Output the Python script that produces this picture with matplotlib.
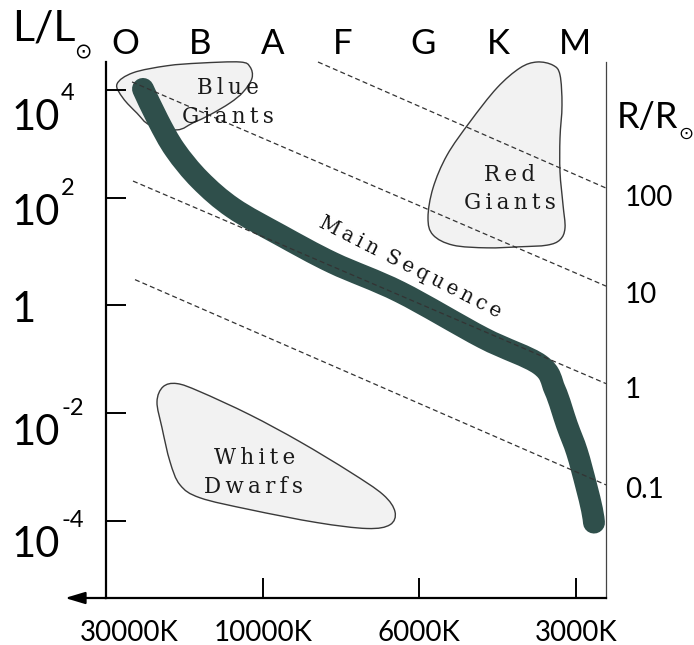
import matplotlib
matplotlib.use('Agg')
import matplotlib.pyplot as plt
import numpy as np
from matplotlib.path import Path
from matplotlib.patches import PathPatch
from matplotlib.transforms import blended_transform_factory

plt.rcParams['font.family'] = ['Lato', 'DejaVu Sans']

# ---------------- data ----------------
spectral_classes = ['O', 'B', 'A', 'F', 'G', 'K', 'M']
spectral_pos = [3.8, 18.8, 33.4, 47.4, 63.4, 78.4, 93.8]

temp_labels = ['30000K', '10000K', '6000K', '3000K']
temp_pos = [4.6, 31.4, 62.6, 94.0]

lum_ticks = [4, 2, 0, -2, -4]
lum_bases = ['10', '10', '1', '10', '10']
lum_exps = ['4', '2', '', '-2', '-4']
lum_label_baseline = [3.26, 1.50, -0.30, -2.59, -4.66]

radius_labels = ['100', '10', '1', '0.1']
radius_label_pos = [2.0, 0.2, -1.57, -3.42]
radius_x0 = [42.4, 5.2, 5.4, 5.8]
radius_y0 = [4.52, 4.15, 2.31, 0.48]
radius_x1 = [100, 100, 100, 100]
radius_y1 = [2.18, 0.36, -1.45, -3.33]

ms_x = [7.4, 10.4, 13.8, 18.8, 25.4, 34.8, 45.4, 58.8, 75.4, 86.8, 89.8, 92.2, 94.2, 96.0, 97.2, 97.6]
ms_y = [4.02, 3.44, 2.89, 2.33, 1.81, 1.31, 0.79, 0.25, -0.60, -1.10, -1.57, -2.22, -2.72, -3.33, -3.79, -4.03]

blue_x = [2.2, 5.4, 12.2, 18.8, 26.8, 28.8, 29.2, 27.4, 24.8, 20.8, 17.4, 14.2, 8.8, 6.2, 3.4]
blue_y = [4.11, 4.32, 4.45, 4.50, 4.52, 4.43, 4.22, 3.96, 3.76, 3.54, 3.39, 3.26, 3.35, 3.57, 3.85]

red_x = [86.2, 89.4, 90.8, 91.2, 90.8, 90.8, 91.4, 91.8, 90.8, 88.2, 82.8, 76.2, 69.4, 65.4, 64.4, 65.4, 68.2, 72.8, 78.2, 82.8]
red_y = [4.52, 4.46, 4.28, 3.72, 3.11, 2.48, 1.87, 1.44, 1.22, 1.12, 1.09, 1.07, 1.12, 1.31, 1.63, 2.18, 2.79, 3.41, 4.04, 4.41]

wd_x = [11.4, 14.2, 18.8, 28.8, 38.8, 48.8, 55.4, 57.8, 56.8, 52.2, 42.2, 28.8, 18.8, 14.8, 12.8, 11.2, 10.2]
wd_y = [-1.51, -1.45, -1.60, -2.03, -2.53, -3.09, -3.51, -3.83, -4.07, -4.14, -4.03, -3.79, -3.57, -3.33, -2.90, -2.27, -1.79]

TS = '\u2009'
region_labels = ['Blue', 'Giants', 'Red', 'Giants', 'White', 'Dwarfs']
region_x = [24.4, 24.4, 80.8, 80.8, 29.8, 29.4]
region_y = [4.04, 3.50, 2.42, 1.90, -2.83, -3.37]


def smooth_path(xs, ys, closed=True):
    pts = np.column_stack([xs, ys]).astype(float)
    n = len(pts)
    verts = [pts[0]]
    codes = [Path.MOVETO]
    rng = range(n) if closed else range(n - 1)
    for i in rng:
        if closed:
            p0, p1, p2, p3 = pts[i - 1], pts[i], pts[(i + 1) % n], pts[(i + 2) % n]
        else:
            p0 = pts[max(i - 1, 0)]
            p1 = pts[i]
            p2 = pts[i + 1]
            p3 = pts[min(i + 2, n - 1)]
        c1 = p1 + (p2 - p0) / 6.0
        c2 = p2 - (p3 - p1) / 6.0
        verts += [c1, c2, p2]
        codes += [Path.CURVE4] * 3
    if closed:
        verts.append(pts[0])
        codes.append(Path.CLOSEPOLY)
    return Path(verts, codes)


fig = plt.figure(figsize=(6.94, 6.45), dpi=100)
ax = fig.add_axes([106 / 694, 47 / 645, 500 / 694, 536 / 645])
ax.set_xlim(0, 100)
ax.set_ylim(-5.43, 4.52)

# blobs
for bx, by in [(blue_x, blue_y), (red_x, red_y), (wd_x, wd_y)]:
    ax.add_patch(PathPatch(smooth_path(bx, by), facecolor='#f2f2f2',
                           edgecolor='#3a3a3a', lw=1.0, zorder=1, clip_on=False))

# main sequence
ax.add_patch(PathPatch(smooth_path(ms_x, ms_y, closed=False), fill=False,
                       edgecolor='#2f4f4b', lw=15.8, capstyle='round',
                       joinstyle='round', zorder=2))

# constant-radius lines
for x0, y0, x1, y1 in zip(radius_x0, radius_y0, radius_x1, radius_y1):
    ax.plot([x0, x1], [y0, y1], color='#333333', lw=0.9,
            linestyle=(0, (4, 2.5)), zorder=3, clip_on=False)

for txt, x, y in zip(region_labels, region_x, region_y):
    ax.text(x, y, TS.join(txt), ha='center', va='center', fontsize=15.5,
            family=['DejaVu Serif'], color='#1a1a1a', zorder=4)

ms_label = TS.join('Main') + '\u2002' + TS.join('Sequence')
ax.text(60.9, 0.70, ms_label,
        ha='center', va='center', rotation=-27, rotation_mode='anchor',
        fontsize=14.5, family=['DejaVu Serif'], color='#111111', zorder=4)

# spines
ax.spines['top'].set_visible(False)
ax.spines['left'].set_linewidth(1.6)
ax.spines['bottom'].set_linewidth(1.6)
ax.spines['right'].set_linewidth(0.9)
ax.spines['right'].set_color('#444444')

ax.set_yticks(lum_ticks)
ax.set_yticklabels([])
ax.tick_params(axis='y', direction='in', length=14.4, width=1.4, left=True, right=False)
ax.set_xticks(temp_pos)
ax.set_xticklabels(temp_labels, fontsize=20)
ax.tick_params(axis='x', direction='in', length=14.4, width=1.4, pad=15.5)
ax.xaxis.get_major_ticks()[0].tick1line.set_visible(False)

ax.annotate('', xy=(-0.082, 0), xytext=(0.0, 0), xycoords='axes fraction',
            arrowprops=dict(arrowstyle='-|>,head_length=0.6,head_width=0.18',
                            color='black', lw=1.6, mutation_scale=20,
                            shrinkA=0, shrinkB=0), annotation_clip=False)

tl = blended_transform_factory(ax.transAxes, ax.transData)
for base, ex, y in zip(lum_bases, lum_exps, lum_label_baseline):
    bt = ax.text(-0.188, y, base, transform=tl, ha='left', va='baseline', fontsize=30)
    if ex:
        ax.annotate(ex, xy=(1.0, y), xycoords=(bt, 'data'),
                    xytext=(0.5, 21.6), textcoords='offset points',
                    ha='left', va='baseline', fontsize=17, annotation_clip=False)

for lab, y in zip(radius_labels, radius_label_pos):
    ax.text(103.8, y, lab, ha='left', va='center', fontsize=20, clip_on=False)

tt = blended_transform_factory(ax.transData, ax.transAxes)
for lab, x in zip(spectral_classes, spectral_pos):
    ax.text(x, 1.0336, lab, transform=tt, ha='center', va='center', fontsize=25)

ax.text(-0.188, 1.0616, 'L/L', transform=ax.transAxes, ha='left', va='center', fontsize=31)
ax.text(-0.046, 1.0187, '\u2299', transform=ax.transAxes, ha='center', va='center',
        fontsize=15, family=['DejaVu Sans'])
ax.text(1.022, 0.897, 'R/R', transform=ax.transAxes, ha='left', va='center', fontsize=26)
ax.text(1.16, 0.866, '\u2299', transform=ax.transAxes, ha='center', va='center',
        fontsize=13, family=['DejaVu Sans'])

fig.savefig('out.png', dpi=100)
